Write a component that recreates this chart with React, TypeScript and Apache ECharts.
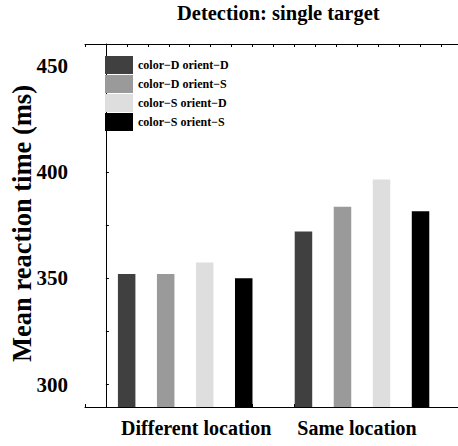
import React, { useEffect, useRef } from "react";
import * as echarts from "echarts";

const categories = ["Different location", "Same location"];
const seriesNames = ["color−D orient−D", "color−D orient−S", "color−S orient−D", "color−S orient−S"];
const colorDorientD = [352, 372];
const colorDorientS = [352, 383.7];
const colorSorientD = [357.5, 396.5];
const colorSorientS = [350, 381.6];
const yTickValues = [300, 325, 350, 375, 400, 425, 450];
const yLabelValues = [300, 350, 400, 450];
const seriesColors = ["#404040", "#9a9a9a", "#dedede", "#000000"];
const yTitle = "Mean reaction time (ms)";

const FONT = "'Liberation Serif', 'Times New Roman', serif";
const Y_MIN = 289.5;
const Y_MAX = 460.2;

export default function App() {
  const ref = useRef<HTMLDivElement>(null);
  useEffect(() => {
    if (!ref.current) return;
    const chart = echarts.init(ref.current, null, { renderer: "svg" });
    const values = [colorDorientD, colorDorientS, colorSorientD, colorSorientS];
    const frameW = 373;
    chart.setOption({
      animation: false,
      backgroundColor: "#ffffff",
      title: {
        text: "Detection: single target",
        left: 172,
        top: -3,
        textStyle: { fontFamily: FONT, fontSize: 20.5, fontWeight: "bold", color: "#000" },
      },
      legend: {
        orient: "vertical",
        left: 100,
        top: 51,
        itemWidth: 28,
        itemHeight: 18,
        itemGap: 1,
        icon: "rect",
        data: seriesNames,
        textStyle: { fontFamily: FONT, fontSize: 12, fontWeight: "bold", color: "#000" },
      },
      graphic: [
        {
          type: "text",
          x: 22,
          y: 223.5,
          rotation: Math.PI / 2,
          style: {
            text: yTitle,
            fontFamily: FONT,
            fontSize: 26.5,
            fontWeight: "bold",
            fill: "#000",
            align: "center",
            verticalAlign: "middle",
          },
        },
      ],
      grid: [
        { left: 85, right: 0, top: 44, bottom: 39 },
        { left: 96.8, right: 7.6, top: 44, bottom: 39 },
      ],
      xAxis: [
        {
          type: "value",
          gridIndex: 0,
          position: "bottom",
          min: -0.5,
          max: -0.5 + frameW / 42 + 0.05,
          interval: 1,
          axisLine: { show: true, lineStyle: { color: "#000", width: 1 } },
          axisTick: { show: true, inside: true, length: 3, lineStyle: { color: "#000" } },
          axisLabel: { show: false },
          splitLine: { show: false },
        },
        {
          type: "value",
          gridIndex: 0,
          position: "top",
          min: -1,
          max: -1 + frameW / 21 + 0.05,
          interval: 1,
          axisLine: { show: true, lineStyle: { color: "#000", width: 1 } },
          axisTick: { show: true, inside: true, length: 3, lineStyle: { color: "#000" } },
          axisLabel: { show: false },
          splitLine: { show: false },
        },
        {
          type: "category",
          gridIndex: 1,
          data: categories,
          axisLine: { show: false },
          axisTick: { show: false },
          axisLabel: {
            margin: 11,
            formatter: (v: string, i: number) => (i === 0 ? "{a|" + v + "}" : "{b|" + v + "}"),
            rich: {
              a: { fontFamily: FONT, fontSize: 20, fontWeight: "bold", color: "#000", padding: [0, 0, 0, 22] },
              b: { fontFamily: FONT, fontSize: 20, fontWeight: "bold", color: "#000", padding: [0, 10, 0, 0] },
            },
          },
        },
      ],
      yAxis: [
        {
          type: "value",
          gridIndex: 0,
          min: Y_MIN,
          max: Y_MAX,
          axisLine: { show: true, lineStyle: { color: "#000", width: 1 } },
          axisTick: {
            show: true,
            inside: true,
            length: 3,
            customValues: yTickValues,
            lineStyle: { color: "#000" },
          },
          axisLabel: {
            margin: 17,
            fontFamily: FONT,
            fontSize: 21,
            fontWeight: "bold",
            color: "#000",
            customValues: yLabelValues,
          },
          splitLine: { show: false },
        },
        {
          type: "value",
          gridIndex: 1,
          min: Y_MIN,
          max: Y_MAX,
          show: false,
          splitLine: { show: false },
        },
      ],
      series: seriesNames.map((name, i) => ({
        name,
        type: "bar",
        xAxisIndex: 2,
        yAxisIndex: 1,
        data: values[i],
        barWidth: 17.5,
        barGap: "123%",
        itemStyle: { color: seriesColors[i] },
      })),
    });
    return () => chart.dispose();
  }, []);
  return <div ref={ref} style={{ width: 458, height: 446, position: "absolute", left: 0, top: 0 }} />;
}
